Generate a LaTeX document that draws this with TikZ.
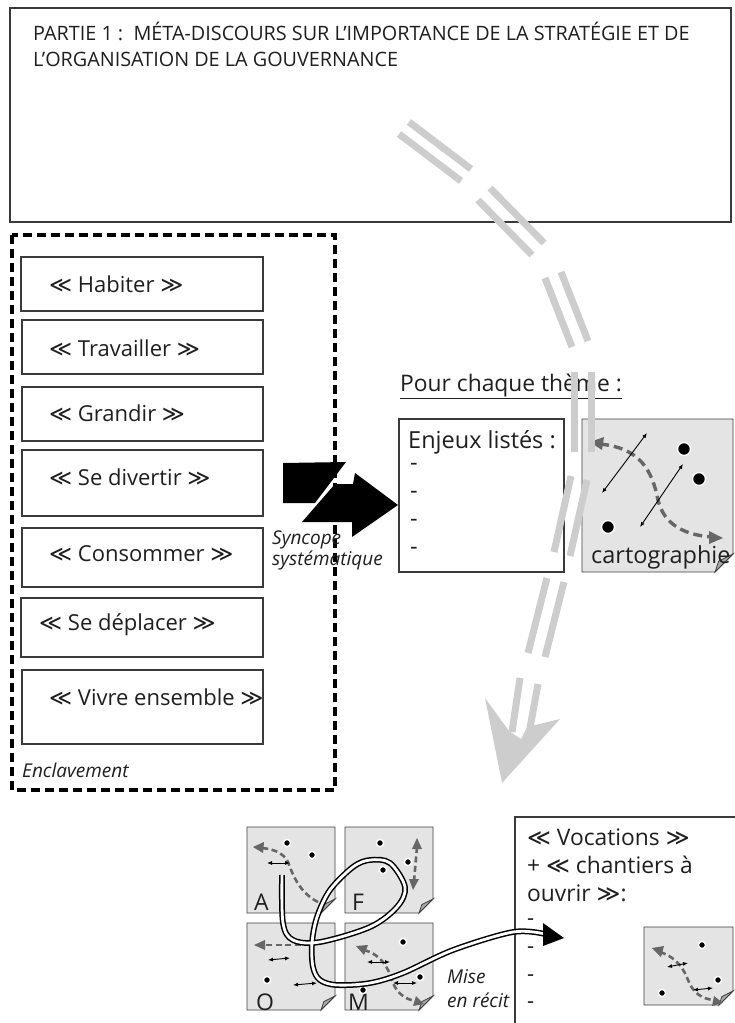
\documentclass[tikz,border=0pt]{standalone}
\usepackage{fontspec}
\setmainfont{Open Sans}
\newfontfamily\symf{DejaVu Sans}
\usetikzlibrary{arrows.meta}
\newcommand{\gsl}{{\symf\char"226A}}
\newcommand{\gsr}{{\symf\char"226B}}
\definecolor{boxline}{HTML}{3A3A3A}
\definecolor{tilefill}{HTML}{E4E4E4}
\definecolor{foldfill}{HTML}{A8A8A8}
\definecolor{dgray}{HTML}{666666}
\definecolor{lgray}{HTML}{CDCDCD}
\tikzset{
  plainbox/.style={draw=boxline, line width=1.1},
  txt/.style={anchor=west, inner sep=0pt, text=black!88},
  big/.style={font=\fontsize{22}{26}\selectfont},
  bigger/.style={font=\fontsize{23.5}{27}\selectfont},
  small/.style={font=\fontsize{19}{22}\itshape\selectfont},
  gbar/.style={draw=lgray, line width=7},
  garrow/.style={draw=dgray, line width=2.6, dash pattern=on 6 off 3.5},
  carrow/.style={draw=dgray, line width=3.4, dash pattern=on 9 off 5},
  barrow/.style={line width=0.9, {Latex[length=5,width=4]}-{Latex[length=5,width=4]}},
  tileline/.style={draw=black!75, line width=0.8},
}
\newcommand{\mytile}[5]{%
  \filldraw[tileline, fill=tilefill] (#1,#2) -- (#3,#2) -- (#3,{#4-#5}) -- ({#3-#5},#4) -- (#1,#4) -- cycle;
  \filldraw[tileline, fill=foldfill] (#3,{#4-#5}) -- ({#3-#5},#4) -- ({#3-0.8*#5},{#4-0.6*#5}) -- cycle;
}
\newcommand{\mydot}[3]{\filldraw[fill=black, draw=white, line width=1.4] (#1,#2) circle (#3);}
\begin{document}
\begin{tikzpicture}[x=1pt,y=-1pt]
\useasboundingbox (0,0) rectangle (734,1023);
\fill[white] (0,0) rectangle (734,1023);

% ---------- top box
\draw[plainbox] (10,8) rectangle (731,222);
\node[txt, font=\fontsize{19.8}{24}\selectfont] (t1) at (33,31) {PARTIE 1 :\ \ MÉTA-DISCOURS SUR L’IMPORTANCE DE LA STRATÉGIE ET DE};
\node[txt, font=\fontsize{19.8}{24}\selectfont] (t2) at (33,59) {L’ORGANISATION DE LA GOUVERNANCE};

% ---------- dashed box with themes
\draw[line width=3.2, dash pattern=on 9 off 5] (12,235) rectangle (335,790);
\draw[plainbox] (21,257) rectangle (263,311);
\draw[plainbox] (22,320) rectangle (263,374);
\draw[plainbox] (22,387) rectangle (263,441);
\draw[plainbox] (22,450) rectangle (263,516);
\draw[plainbox] (22,528) rectangle (263,587);
\draw[plainbox] (21,598) rectangle (263,657);
\draw[plainbox] (22,670) rectangle (263,744);
\node[txt, big] (h1) at (49,284) {\gsl\ Habiter \gsr};
\node[txt, big] (h2) at (49,348) {\gsl\ Travailler \gsr};
\node[txt, big] (h3) at (49,413) {\gsl\ Grandir \gsr};
\node[txt, big] (h4) at (49,477) {\gsl\ Se divertir \gsr};
\node[txt, big] (h5) at (49,554) {\gsl\ Consommer \gsr};
\node[txt, big] (h6) at (39,625) {\gsl\ Se déplacer \gsr};
\node[txt, big] (h7) at (49,697) {\gsl\ Vivre ensemble \gsr};
\node[txt, small] (encl) at (22,770) {Enclavement};

% ---------- black syncope arrow
\fill[black] (283,463) -- (346,462) -- (315,503) -- (283,503) -- cycle;
\fill[black] (302,522) -- (335,484) -- (353,484) -- (355,473) -- (398,505) -- (352,537) -- (352,522) -- cycle;
\node[txt, small] (sy1) at (272,540) {Syncope};
\node[txt, small] (sy2) at (272,561) {systématique};

% ---------- Pour chaque theme
\node[txt, font=\fontsize{22.8}{26}\selectfont] (pct) at (400,386) {\underline{Pour chaque thème :}};
\draw[plainbox] (399,419) rectangle (564,572);
\node[txt, bigger] (enj) at (408,442) {Enjeux listés :};
\node[txt, bigger] (e1) at (410,467) {-};
\node[txt, bigger] (e2) at (410,495) {-};
\node[txt, bigger] (e3) at (410,523) {-};
\node[txt, bigger] (e4) at (410,551) {-};

% cartographie tile
\mytile{582}{419}{733}{572}{18}
\draw[carrow] (600,444) .. controls (640,448) and (652,470) .. (658,500) .. controls (664,525) and (685,535) .. (712,537);
\fill[dgray] (590,442) -- (604,437) -- (602,450) -- cycle;
\fill[dgray] (723,538) -- (709,531) -- (709,544) -- cycle;
\draw[barrow] (602,493) -- (647,433);
\draw[barrow] (640,527) -- (683,464);
\mydot{684}{449}{6.5}
\mydot{699}{479}{6.5}
\mydot{608}{527}{6.5}
\node[txt, bigger] (carto) at (591,557) {cartographie};

% ---------- big grey dashed double arrow
\draw[gbar] (399,134) -- (461,181);  \draw[gbar] (409,122) -- (471,169);
\draw[gbar] (478,200) -- (532,255);  \draw[gbar] (490,188) -- (544,243);
\draw[gbar] (545,278) -- (572,347);  \draw[gbar] (561,272) -- (588,341);
\draw[gbar] (574,372) -- (574,452);  \draw[gbar] (591,372) -- (591,452);
\draw[gbar] (571,476) -- (554,552);  \draw[gbar] (587,480) -- (570,556);
\draw[gbar] (547,578) -- (528,653);  \draw[gbar] (564,582) -- (545,657);
\draw[gbar] (520,678) -- (512,732);  \draw[gbar] (538,684) -- (530,728);
\fill[lgray] (485,698) -- (509,731) -- (521,739) -- (527,727) -- (560,719) -- (502,783) -- cycle;

% ---------- bottom tiles
\mytile{247}{827}{335}{913}{14}
\mytile{345}{827}{433}{913}{14}
\mytile{247}{923}{335}{1010}{14}
\mytile{345}{923}{433}{1010}{14}
% tile A
\draw[garrow] (318,902) .. controls (298,892) and (292,872) .. (288,862) .. controls (283,852) and (272,849) .. (262,848);
\fill[dgray] (253,847) -- (264,842) -- (263,853) -- cycle;
\draw[barrow] (267,863) -- (290,863);
\mydot{287}{843}{3.6}
\mydot{312}{855}{3.6}
\node[txt, font=\fontsize{23}{24}\selectfont] (la) at (254,902) {A};
% tile F
\draw[garrow] (417,847) -- (414,881);
\fill[dgray] (417,838) -- (412,849) -- (422,849) -- cycle;
\fill[dgray] (413,890) -- (409,879) -- (419,879) -- cycle;
\mydot{380}{843}{3.6}
\mydot{408}{862}{3.6}
\mydot{383}{870}{3.6}
\node[txt, font=\fontsize{23}{24}\selectfont] (lf) at (352,902) {F};
% tile O
\draw[garrow] (310,945) -- (263,945);
\fill[dgray] (254,945) -- (265,940) -- (265,950) -- cycle;
\draw[barrow] (268,960) -- (290,958);
\draw[barrow] (293,985) -- (317,983);
\mydot{267}{980}{3.6}
\node[txt, font=\fontsize{23}{24}\selectfont] (lo) at (256,1002) {O};
% tile M
\draw[garrow] (364,950) .. controls (382,955) and (388,968) .. (392,980) .. controls (396,993) and (405,999) .. (415,1001);
\fill[dgray] (356,946) -- (368,945) -- (364,955) -- cycle;
\fill[dgray] (424,1004) -- (413,1006) -- (416,996) -- cycle;
\draw[barrow] (367,962) -- (390,962);
\draw[barrow] (393,983) -- (417,983);
\mydot{403}{942}{3.6}
\mydot{420}{977}{3.6}
\node[txt, font=\fontsize{23}{24}\selectfont] (lm) at (348,1002) {M};
\mydot{363}{990}{3.6}

% ---------- vocations box
\draw[plainbox] (515,1030) -- (515,817) -- (740,817);
\node[txt, font=\fontsize{22.8}{26}\selectfont] (v1) at (527,837) {\gsl\ Vocations \gsr};
\node[txt, font=\fontsize{22.8}{26}\selectfont] (v2) at (527,865) {+ \gsl\ chantiers à};
\node[txt, font=\fontsize{22.8}{26}\selectfont] (v3) at (527,893) {ouvrir \gsr:};
\node[txt, big] (d1) at (527,922) {-};
\node[txt, big] (d2) at (527,950) {-};
\node[txt, big] (d3) at (527,978) {-};
\node[txt, big] (d4) at (527,1005) {-};
\mytile{644}{927}{733}{1005}{14}
\draw[garrow] (660,952) .. controls (678,958) and (684,970) .. (688,980) .. controls (693,993) and (702,999) .. (714,1000);
\fill[dgray] (652,948) -- (664,946) -- (661,957) -- cycle;
\fill[dgray] (723,1003) -- (712,1006) -- (714,996) -- cycle;
\draw[barrow] (667,967) -- (688,963);
\draw[barrow] (693,990) -- (713,988);
\mydot{702}{945}{3.6}
\mydot{718}{980}{3.6}
\mydot{662}{993}{3.6}

% ---------- narrative double line
\draw[line width=1.5, double=white, double distance=2.8, line cap=butt]
  plot[smooth, tension=0.55] coordinates {(282,875) (283,923) (293,940) (320,942) (370,927) (397,907) (405,887) (390,863) (370,860) (353,867) (330,890) (317,917) (312,943) (313,967) (320,980) (337,985) (370,983) (403,973) (453,950) (513,932) (545,934)};
\fill[black] (543,923) -- (564,938) -- (543,946) -- cycle;
\node[txt, small] (mi1) at (447,977) {Mise};
\node[txt, small] (mi2) at (447,1000) {en récit};
\end{tikzpicture}
\end{document}
